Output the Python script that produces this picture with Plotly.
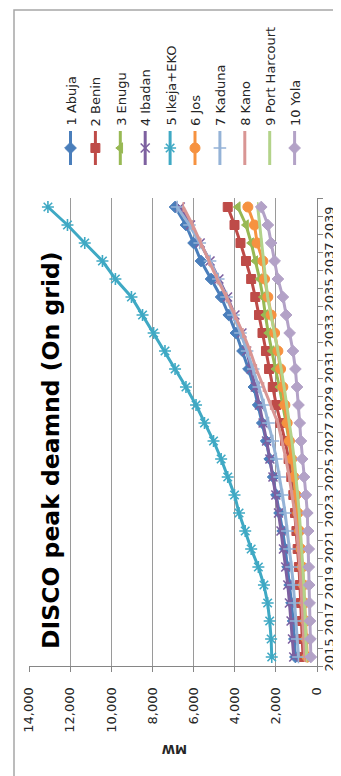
"""DISCO peak demand (on grid) chart, drawn turned a quarter turn like the scanned page."""

import plotly.graph_objects as go

W, H = 341, 776

years = [2015, 2016, 2017, 2018, 2019, 2020, 2021, 2022, 2023, 2024, 2025, 2026, 2027,
         2028, 2029, 2030, 2031, 2032, 2033, 2034, 2035, 2036, 2037, 2038, 2039, 2040]
year_labels = ["2015", "2017", "2019", "2021", "2023", "2025", "2027",
               "2029", "2031", "2033", "2035", "2037", "2039"]
mw_ticks = [0, 2000, 4000, 6000, 8000, 10000, 12000, 14000]

abuja = [1050, 1100, 1160, 1240, 1330, 1430, 1540, 1670, 1820, 1970, 2130, 2300, 2470,
         2660, 2860, 3070, 3330, 3620, 3940, 4290, 4660, 5150, 5640, 6000, 6370, 6900]
benin = [680, 710, 740, 780, 830, 880, 940, 1000, 1070, 1150, 1250, 1380, 1550,
         1780, 1980, 2150, 2330, 2480, 2650, 2820, 3000, 3200, 3450, 3720, 4010, 4340]
enugu = [580, 610, 640, 680, 720, 770, 830, 890, 960, 1040, 1130, 1240, 1360,
         1500, 1650, 1830, 2020, 2200, 2370, 2510, 2630, 2790, 3000, 3200, 3450, 3850]
ibadan = [1130, 1190, 1260, 1340, 1420, 1520, 1630, 1750, 1870, 2000, 2140, 2290, 2450,
          2620, 2800, 3000, 3200, 3420, 3650, 3990, 4350, 4770, 5200, 5680, 6150, 6650]
ikeja = [2200, 2230, 2300, 2400, 2580, 2850, 3200, 3490, 3790, 4010, 4340, 4660, 5030,
         5470, 5880, 6370, 6900, 7390, 7940, 8480, 9020, 9800, 10430, 11290, 12130, 13080]
jos = [470, 510, 550, 600, 650, 710, 780, 850, 930, 1020, 1120, 1230, 1340,
       1450, 1560, 1660, 1770, 1900, 2060, 2230, 2390, 2550, 2630, 2910, 3040, 3360]
kaduna = [900, 960, 1020, 1090, 1150, 1240, 1340, 1440, 1550, 1680, 1820, 1980, 2150,
          2360, 2580, 2830, 3100, 3400, 3720, 4060, 4400, 4800, 5200, 5700, 6200, 6800]
kano = [600, 640, 680, 730, 780, 840, 900, 980, 1080, 1200, 1350, 1510, 1700,
        1900, 2250, 2600, 2950, 3250, 3600, 4000, 4400, 4850, 5250, 5650, 6050, 6500]
port_harcourt = [500, 530, 560, 600, 640, 690, 740, 800, 860, 940, 1020, 1110, 1220,
                 1340, 1460, 1600, 1740, 1900, 2080, 2250, 2400, 2500, 2600, 2700, 2790, 2880]
yola = [300, 320, 340, 360, 380, 400, 400, 430, 470, 540, 630, 720, 780,
        840, 900, 970, 1050, 1170, 1330, 1500, 1660, 1900, 2060, 2230, 2390, 2710]

series = [
    ("1 Abuja", abuja, "#4a7ebb", "diamond", 9),
    ("2 Benin", benin, "#be4b48", "square", 9),
    ("3 Enugu", enugu, "#98b954", "triangle-left", 9),
    ("4 Ibadan", ibadan, "#7d60a0", "x-thin-open", 9),
    ("5 Ikeja+EKO", ikeja, "#3fa9c4", "asterisk-open", 10),
    ("6 Jos", jos, "#f69240", "circle", 10),
    ("7 Kaduna", kaduna, "#95b3d7", "cross-thin-open", 9),
    ("8 Kano", kano, "#d99694", "line-ns-open", 7),
    ("9 Port Harcourt", port_harcourt, "#b3d38a", "line-ns-open", 7),
    ("10 Yola", yola, "#b3a2c7", "diamond", 9),
]

FONT = "DejaVu Sans"
AXIS_GREY = "#868686"
GRID_GREY = "#9a9a9a"

# plot area in pixels of the turned page
PLOT_L, PLOT_R, PLOT_T, PLOT_B = 21, 309, 190, 658


def px_x(x):
    return x / W


def px_y(y):
    return (H - y) / H


fig = go.Figure()

for name, values, color, symbol, size in series:
    thin = symbol.endswith("-open")
    fig.add_trace(
        go.Scatter(
            x=values,
            y=years,
            mode="lines+markers",
            name=name,
            line=dict(color=color, width=3),
            marker=dict(
                symbol=symbol,
                size=size,
                color=color,
                line=dict(color=color, width=1.6 if thin else 1),
            ),
            showlegend=False,
            xaxis="x",
            yaxis="y",
        )
    )

# hand-made legend, turned like the rest of the page
legend_x0, legend_step = 62.5, 24.9
for i, (name, values, color, symbol, size) in enumerate(series):
    lx = legend_x0 + legend_step * i
    fig.add_trace(
        go.Scatter(
            x=[lx, lx],
            y=[123, 157],
            mode="lines",
            line=dict(color=color, width=3),
            showlegend=False,
            hoverinfo="skip",
            xaxis="x2",
            yaxis="y2",
        )
    )
    thin = symbol.endswith("-open")
    fig.add_trace(
        go.Scatter(
            x=[lx],
            y=[140],
            mode="markers",
            marker=dict(
                symbol=symbol,
                size=size,
                color=color,
                line=dict(color=color, width=1.6 if thin else 1),
            ),
            showlegend=False,
            hoverinfo="skip",
            xaxis="x2",
            yaxis="y2",
        )
    )
    fig.add_annotation(
        text=name,
        xref="paper",
        yref="paper",
        x=px_x(lx + 0.5),
        y=px_y(120),
        xanchor="center",
        yanchor="bottom",
        textangle=-90,
        showarrow=False,
        font=dict(family=FONT, size=13, color="#262626"),
    )

fig.add_annotation(
    text="<b>DISCO peak deamnd (On grid)</b>",
    xref="paper",
    yref="paper",
    x=px_x(43),
    y=px_y(643),
    xanchor="center",
    yanchor="bottom",
    textangle=-90,
    showarrow=False,
    font=dict(family=FONT, size=23.5, color="#000000"),
)

fig.add_annotation(
    text="<b>MW</b>",
    xref="paper",
    yref="paper",
    x=px_x(167),
    y=px_y(741),
    xanchor="center",
    yanchor="middle",
    textangle=180,
    showarrow=False,
    font=dict(family=FONT, size=12, color="#262626"),
)

# chart frame
fig.add_shape(
    type="rect",
    xref="paper",
    yref="paper",
    x0=px_x(6),
    x1=px_x(338),
    y0=px_y(772),
    y1=px_y(2),
    line=dict(color="#a6a6a6", width=1.5),
)

minor_bounds = [y - 0.5 for y in years] + [years[-1] + 0.5]

fig.update_layout(
    width=W,
    height=H,
    margin=dict(l=0, r=0, t=0, b=0),
    paper_bgcolor="white",
    plot_bgcolor="rgba(0,0,0,0)",
    font=dict(family=FONT, size=13, color="#262626"),
    showlegend=False,
    xaxis=dict(
        domain=[px_x(PLOT_L), px_x(PLOT_R)],
        range=[14000, 0],
        tickvals=mw_ticks,
        tickformat=",",
        tickangle=-90,
        ticks="outside",
        ticklen=5,
        tickcolor=AXIS_GREY,
        ticklabelstandoff=10,
        showline=True,
        linecolor=AXIS_GREY,
        linewidth=1,
        showgrid=True,
        gridcolor=GRID_GREY,
        gridwidth=1,
        zeroline=False,
        automargin=False,
        tickfont=dict(family=FONT, size=13, color="#262626"),
        anchor="y",
    ),
    yaxis=dict(
        domain=[px_y(PLOT_B), px_y(PLOT_T)],
        range=[years[0] - 0.5, years[-1] + 0.5],
        side="right",
        anchor="x",
        tickvals=[int(t) for t in year_labels],
        ticktext=year_labels,
        tickangle=-90,
        ticks="",
        ticklabelstandoff=0,
        minor=dict(tickvals=minor_bounds, ticks="outside", ticklen=5, tickcolor=AXIS_GREY, showgrid=False),
        showline=True,
        linecolor=AXIS_GREY,
        linewidth=1,
        showgrid=False,
        zeroline=False,
        automargin=False,
        tickfont=dict(family=FONT, size=13, color="#262626"),
    ),
    xaxis2=dict(domain=[0, 1], range=[0, W], visible=False, anchor="y2", fixedrange=True),
    yaxis2=dict(domain=[0, 1], range=[H, 0], visible=False, anchor="x2", fixedrange=True),
)

fig.write_html("out.html")
